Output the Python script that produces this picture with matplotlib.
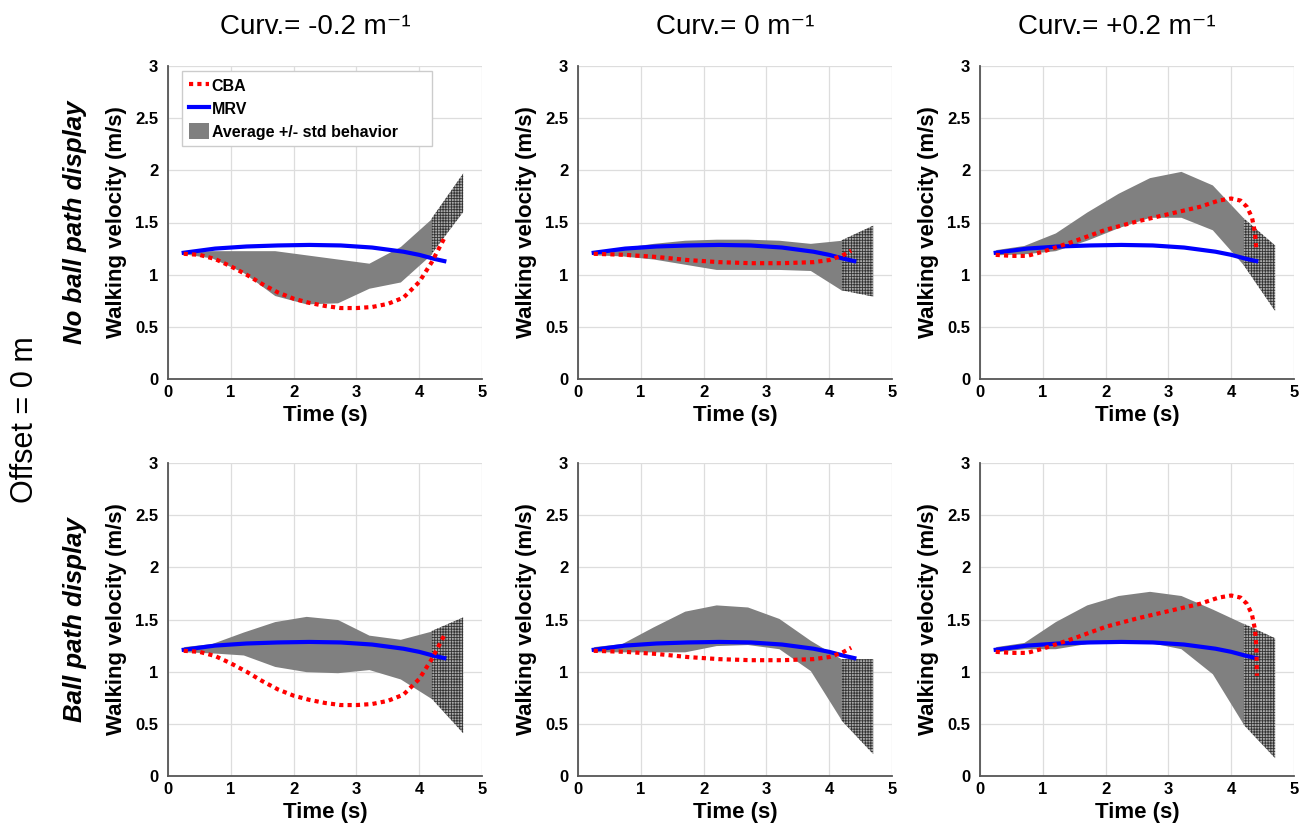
import numpy as np
import matplotlib
matplotlib.use('Agg')
import matplotlib.pyplot as plt
from matplotlib.ticker import FormatStrFormatter

plt.rcParams['font.family'] = ['Liberation Sans', 'DejaVu Sans']
plt.rcParams['hatch.linewidth'] = 0.6

col_titles = ['Curv.= -0.2 m\u207b\u00b9', 'Curv.= 0 m\u207b\u00b9', 'Curv.= +0.2 m\u207b\u00b9']
row_titles = ['No ball path display', 'Ball path display']

# time samples of the average +/- std band
band_t = [0.25, 0.7, 1.2, 1.7, 2.2, 2.7, 3.2, 3.7, 4.2, 4.7]

# no ball path display
nb_neg_hi = [1.22, 1.23, 1.23, 1.23, 1.19, 1.15, 1.11, 1.27, 1.54, 1.97]
nb_neg_lo = [1.20, 1.16, 1.02, 0.80, 0.72, 0.73, 0.87, 0.93, 1.20, 1.60]
nb_zero_hi = [1.23, 1.26, 1.30, 1.33, 1.34, 1.34, 1.33, 1.30, 1.33, 1.47]
nb_zero_lo = [1.19, 1.18, 1.15, 1.10, 1.05, 1.05, 1.05, 1.04, 0.85, 0.79]
nb_pos_hi = [1.24, 1.28, 1.40, 1.60, 1.78, 1.93, 1.99, 1.86, 1.54, 1.28]
nb_pos_lo = [1.19, 1.20, 1.23, 1.33, 1.45, 1.55, 1.55, 1.43, 1.09, 0.65]

# ball path display
bp_neg_hi = [1.24, 1.27, 1.38, 1.48, 1.53, 1.50, 1.35, 1.31, 1.39, 1.52]
bp_neg_lo = [1.19, 1.18, 1.16, 1.05, 1.00, 0.99, 1.02, 0.93, 0.74, 0.41]
bp_zero_hi = [1.24, 1.27, 1.43, 1.58, 1.64, 1.62, 1.51, 1.30, 1.12, 1.12]
bp_zero_lo = [1.19, 1.19, 1.19, 1.19, 1.25, 1.26, 1.22, 1.01, 0.53, 0.21]
bp_pos_hi = [1.24, 1.28, 1.48, 1.64, 1.73, 1.77, 1.73, 1.60, 1.46, 1.32]
bp_pos_lo = [1.19, 1.22, 1.22, 1.27, 1.28, 1.28, 1.22, 0.98, 0.49, 0.17]

# MRV model (same in every panel)
mrv_t = [0.25, 0.75, 1.25, 1.75, 2.25, 2.75, 3.25, 3.75, 4.0, 4.25, 4.4]
mrv_v = [1.21, 1.25, 1.27, 1.28, 1.285, 1.28, 1.26, 1.22, 1.19, 1.15, 1.13]

# CBA model
cba_neg_t = [0.25, 0.5, 0.75, 1.0, 1.25, 1.5, 1.75, 2.0, 2.25, 2.5, 2.75, 3.0,
             3.25, 3.5, 3.75, 4.0, 4.2, 4.4]
cba_neg_v = [1.20, 1.19, 1.15, 1.08, 1.00, 0.91, 0.83, 0.77, 0.73, 0.70, 0.68, 0.68,
             0.69, 0.72, 0.78, 0.93, 1.12, 1.35]
cba_zero_t = [0.25, 0.75, 1.25, 1.75, 2.25, 2.75, 3.25, 3.75, 4.0, 4.2, 4.35]
cba_zero_v = [1.20, 1.19, 1.17, 1.14, 1.12, 1.11, 1.11, 1.12, 1.14, 1.18, 1.23]
cba_pos_t = [0.25, 0.5, 0.75, 1.0, 1.5, 2.0, 2.5, 3.0, 3.5, 3.8, 4.0, 4.15,
             4.25, 4.33, 4.38, 4.4]
cba_pos_v = [1.19, 1.18, 1.18, 1.22, 1.32, 1.43, 1.51, 1.58, 1.65, 1.71, 1.73, 1.71,
             1.65, 1.55, 1.40, 1.24]
cba_pos_ball_t = cba_pos_t + [4.41]
cba_pos_ball_v = cba_pos_v + [0.96]

panels = [
    [(nb_neg_hi, nb_neg_lo, cba_neg_t, cba_neg_v),
     (nb_zero_hi, nb_zero_lo, cba_zero_t, cba_zero_v),
     (nb_pos_hi, nb_pos_lo, cba_pos_t, cba_pos_v)],
    [(bp_neg_hi, bp_neg_lo, cba_neg_t, cba_neg_v),
     (bp_zero_hi, bp_zero_lo, cba_zero_t, cba_zero_v),
     (bp_pos_hi, bp_pos_lo, cba_pos_ball_t, cba_pos_ball_v)],
]

W, H = 1308, 833
fig = plt.figure(figsize=(W / 100, H / 100), dpi=100)

lefts = [168, 578, 980]
tops = [66, 463]
aw, ah = 314, 313
title_x = [315, 735, 1117]
split = band_t.index(4.2)

for r in range(2):
    for c in range(3):
        hi, lo, ct, cv = panels[r][c]
        ax = fig.add_axes([lefts[c] / W, 1 - (tops[r] + ah) / H, aw / W, ah / H])
        ax.fill_between(band_t[:split + 1], lo[:split + 1], hi[:split + 1],
                        color='#808080', lw=0, label='Average +/- std behavior', zorder=2)
        ax.fill_between(band_t[split:], lo[split:], hi[split:], facecolor='#aaaaaa',
                        edgecolor='#333333', hatch='++++++', lw=0, zorder=2)
        ax.plot(ct, cv, color='#ff0000', lw=3, ls=(0, (1, 1)), label='CBA', zorder=4)
        ax.plot(mrv_t, mrv_v, color='#0000ff', lw=3, label='MRV', zorder=3)

        ax.set_xlim(0, 5)
        ax.set_ylim(0, 3)
        ax.set_xticks(range(6))
        ax.set_yticks(np.arange(0, 3.01, 0.5))
        ax.yaxis.set_major_formatter(FormatStrFormatter('%g'))
        ax.grid(True, color='#dddddd', lw=0.9)
        ax.set_axisbelow(True)
        for s in ['top', 'right']:
            ax.spines[s].set_visible(False)
        for s in ['left', 'bottom']:
            ax.spines[s].set_color('#555555')
            ax.spines[s].set_linewidth(1.3)
        ax.tick_params(length=0, labelsize=12)
        ax.tick_params(axis='x', pad=4)
        ax.tick_params(axis='y', pad=7)
        for lab in ax.get_xticklabels() + ax.get_yticklabels():
            lab.set_fontweight('bold')
        ax.set_xlabel('Time (s)', fontsize=16, fontweight='bold', labelpad=4)
        ax.set_ylabel('Walking velocity (m/s)', fontsize=16, fontweight='bold', labelpad=6)

        if r == 0 and c == 0:
            h, l = ax.get_legend_handles_labels()
            order = [l.index('CBA'), l.index('MRV'), l.index('Average +/- std behavior')]
            ax.legend([h[i] for i in order], [l[i] for i in order],
                      loc='upper left', bbox_to_anchor=(0.045, 0.74, 0.795, 0.245),
                      mode='expand', borderaxespad=0, fancybox=False,
                      edgecolor='#cccccc', framealpha=1,
                      prop={'weight': 'bold', 'size': 11.5},
                      handlelength=1.3, handleheight=1.2, handletextpad=0.15,
                      labelspacing=0.4, borderpad=0.4)

for c in range(3):
    fig.text(title_x[c] / W, 1 - 27 / H, col_titles[c], ha='center', va='center',
             fontsize=20)

for r in range(2):
    cy = 1 - (tops[r] + ah / 2) / H
    fig.text(75 / W, cy, row_titles[r], rotation=90, ha='center', va='center',
             fontsize=18.5, fontweight='bold', fontstyle='italic')

fig.text(25 / W, 1 - 420 / H, 'Offset = 0 m', rotation=90, ha='center', va='center',
         fontsize=22)

fig.savefig('out.png', dpi=100)
